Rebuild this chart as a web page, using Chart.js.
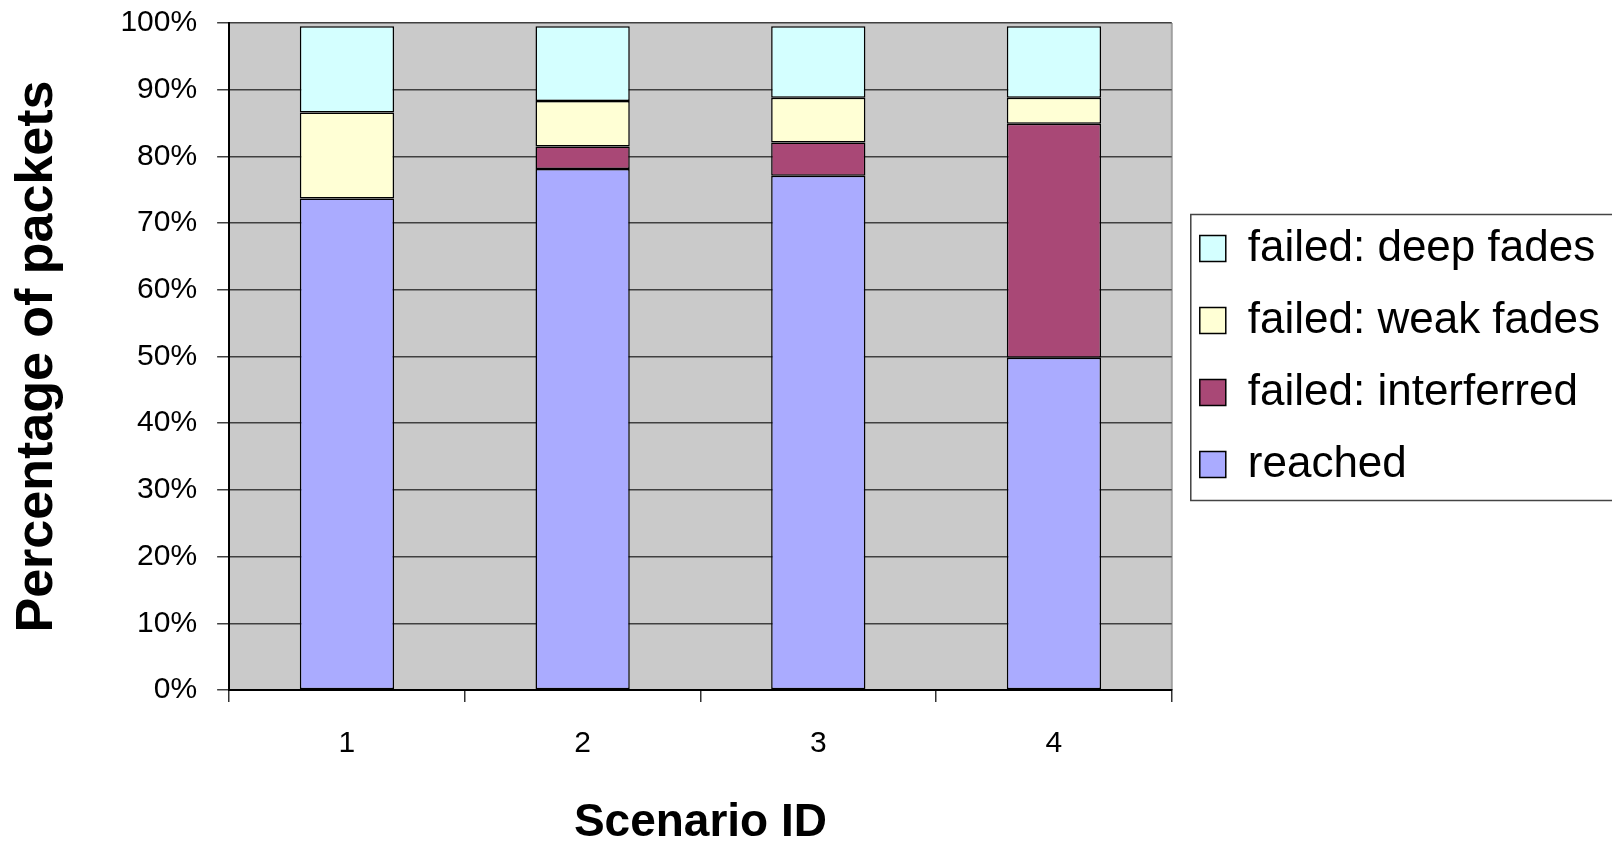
<!DOCTYPE html>
<html lang="en">
<head>
  <meta charset="UTF-8" />
  <title>Percentage of packets per scenario</title>
  <script src="https://cdn.jsdelivr.net/npm/chart.js"></script>
  <style>
    body { margin: 0; background: #fff; }
    #wrap { width: 1612px; height: 842px; }
  </style>
</head>
<body>
  <div id="wrap"><canvas id="grafik"></canvas></div>

  <script>
    const scenarios = ["1", "2", "3", "4"];
    const reached = [73.7, 78.1, 77.1, 49.8];
    const interferred = [0, 3.4, 5.0, 35.1];
    const weakFades = [12.9, 6.8, 6.7, 3.9];
    const deepFades = [12.9, 11.2, 10.7, 10.7];
    const yTicks = [0, 10, 20, 30, 40, 50, 60, 70, 80, 90, 100];

    const sans = "'Liberation Sans', Arial, sans-serif";

    // grey plot background like the Excel original
    const plotBg = {
      id: "plotBg",
      beforeDraw(chart) {
        const a = chart.chartArea, ctx = chart.ctx;
        ctx.save();
        ctx.fillStyle = "#cacaca";
        ctx.fillRect(a.left, a.top, a.right - a.left, a.bottom - a.top);
        ctx.strokeStyle = "#a0a0a0";
        ctx.lineWidth = 2;
        ctx.beginPath();
        ctx.moveTo(a.right, a.top);
        ctx.lineTo(a.right, a.bottom);
        ctx.stroke();
        ctx.restore();
      }
    };

    // frame around the legend
    const legendFrame = {
      id: "legendFrame",
      afterDraw(chart) {
        const boxes = chart.legend.legendHitBoxes;
        if (!boxes || !boxes.length) return;
        const top = Math.min(...boxes.map(b => b.top)) - 12;
        const bottom = Math.max(...boxes.map(b => b.top + b.height)) + 14;
        const left = Math.min(...boxes.map(b => b.left)) - 9;
        const ctx = chart.ctx;
        ctx.save();
        ctx.strokeStyle = "#444";
        ctx.lineWidth = 1.5;
        ctx.strokeRect(left, top, chart.width - left + 5, bottom - top);
        ctx.restore();
      }
    };

    new Chart(document.getElementById("grafik"), {
      type: "bar",
      data: {
        labels: scenarios,
        datasets: [
          { label: "reached", data: reached, backgroundColor: "#aaabff" },
          { label: "failed: interferred", data: interferred, backgroundColor: "#a94876" },
          { label: "failed: weak fades", data: weakFades, backgroundColor: "#ffffd5" },
          { label: "failed: deep fades", data: deepFades, backgroundColor: "#d4ffff" }
        ].map(ds => Object.assign(ds, {
          borderColor: "#000",
          borderWidth: 1.5,
          borderSkipped: false,
          categoryPercentage: 1,
          barPercentage: 0.4
        }))
      },
      options: {
        responsive: true,
        maintainAspectRatio: false,
        animation: false,
        layout: { padding: { top: 23, left: 6, right: 2, bottom: -4 } },
        plugins: {
          legend: {
            position: "right",
            fullSize: false,
            reverse: true,
            maxWidth: 440,
            labels: {
              boxWidth: 26,
              boxHeight: 26,
              padding: 28,
              color: "#000",
              font: { family: sans, size: 44, lineHeight: 1.2 }
            }
          },
          tooltip: { enabled: false }
        },
        scales: {
          x: {
            stacked: true,
            grid: {
              offset: true,
              drawOnChartArea: false,
              tickLength: 12,
              color: "#333",
              lineWidth: 1.5
            },
            border: { color: "#000", width: 2 },
            ticks: { color: "#000", padding: 24, font: { family: sans, size: 30, lineHeight: 1.2 } },
            title: {
              display: true,
              text: "Scenario ID",
              color: "#000",
              padding: { top: 14, bottom: 0 },
              font: { family: sans, size: 46, weight: "bold", lineHeight: 1 }
            }
          },
          y: {
            stacked: true,
            min: 0,
            max: 100,
            afterBuildTicks: axis => { axis.ticks = yTicks.map(v => ({ value: v })); },
            // the top label may stick out into the margin
            afterFit: axis => { axis.paddingTop = 0; axis.paddingBottom = 0; },
            grid: { color: "#404040", lineWidth: 1.5, tickLength: 12 },
            border: { color: "#000", width: 2 },
            ticks: {
              color: "#000",
              padding: 20,
              font: { family: sans, size: 30 },
              callback: v => v + "%"
            },
            title: {
              display: true,
              text: "Percentage of packets",
              color: "#000",
              padding: { top: 0, bottom: 32 },
              font: { family: sans, size: 52, weight: "bold" }
            }
          }
        }
      },
      plugins: [plotBg, legendFrame]
    });
  </script>
</body>
</html>
